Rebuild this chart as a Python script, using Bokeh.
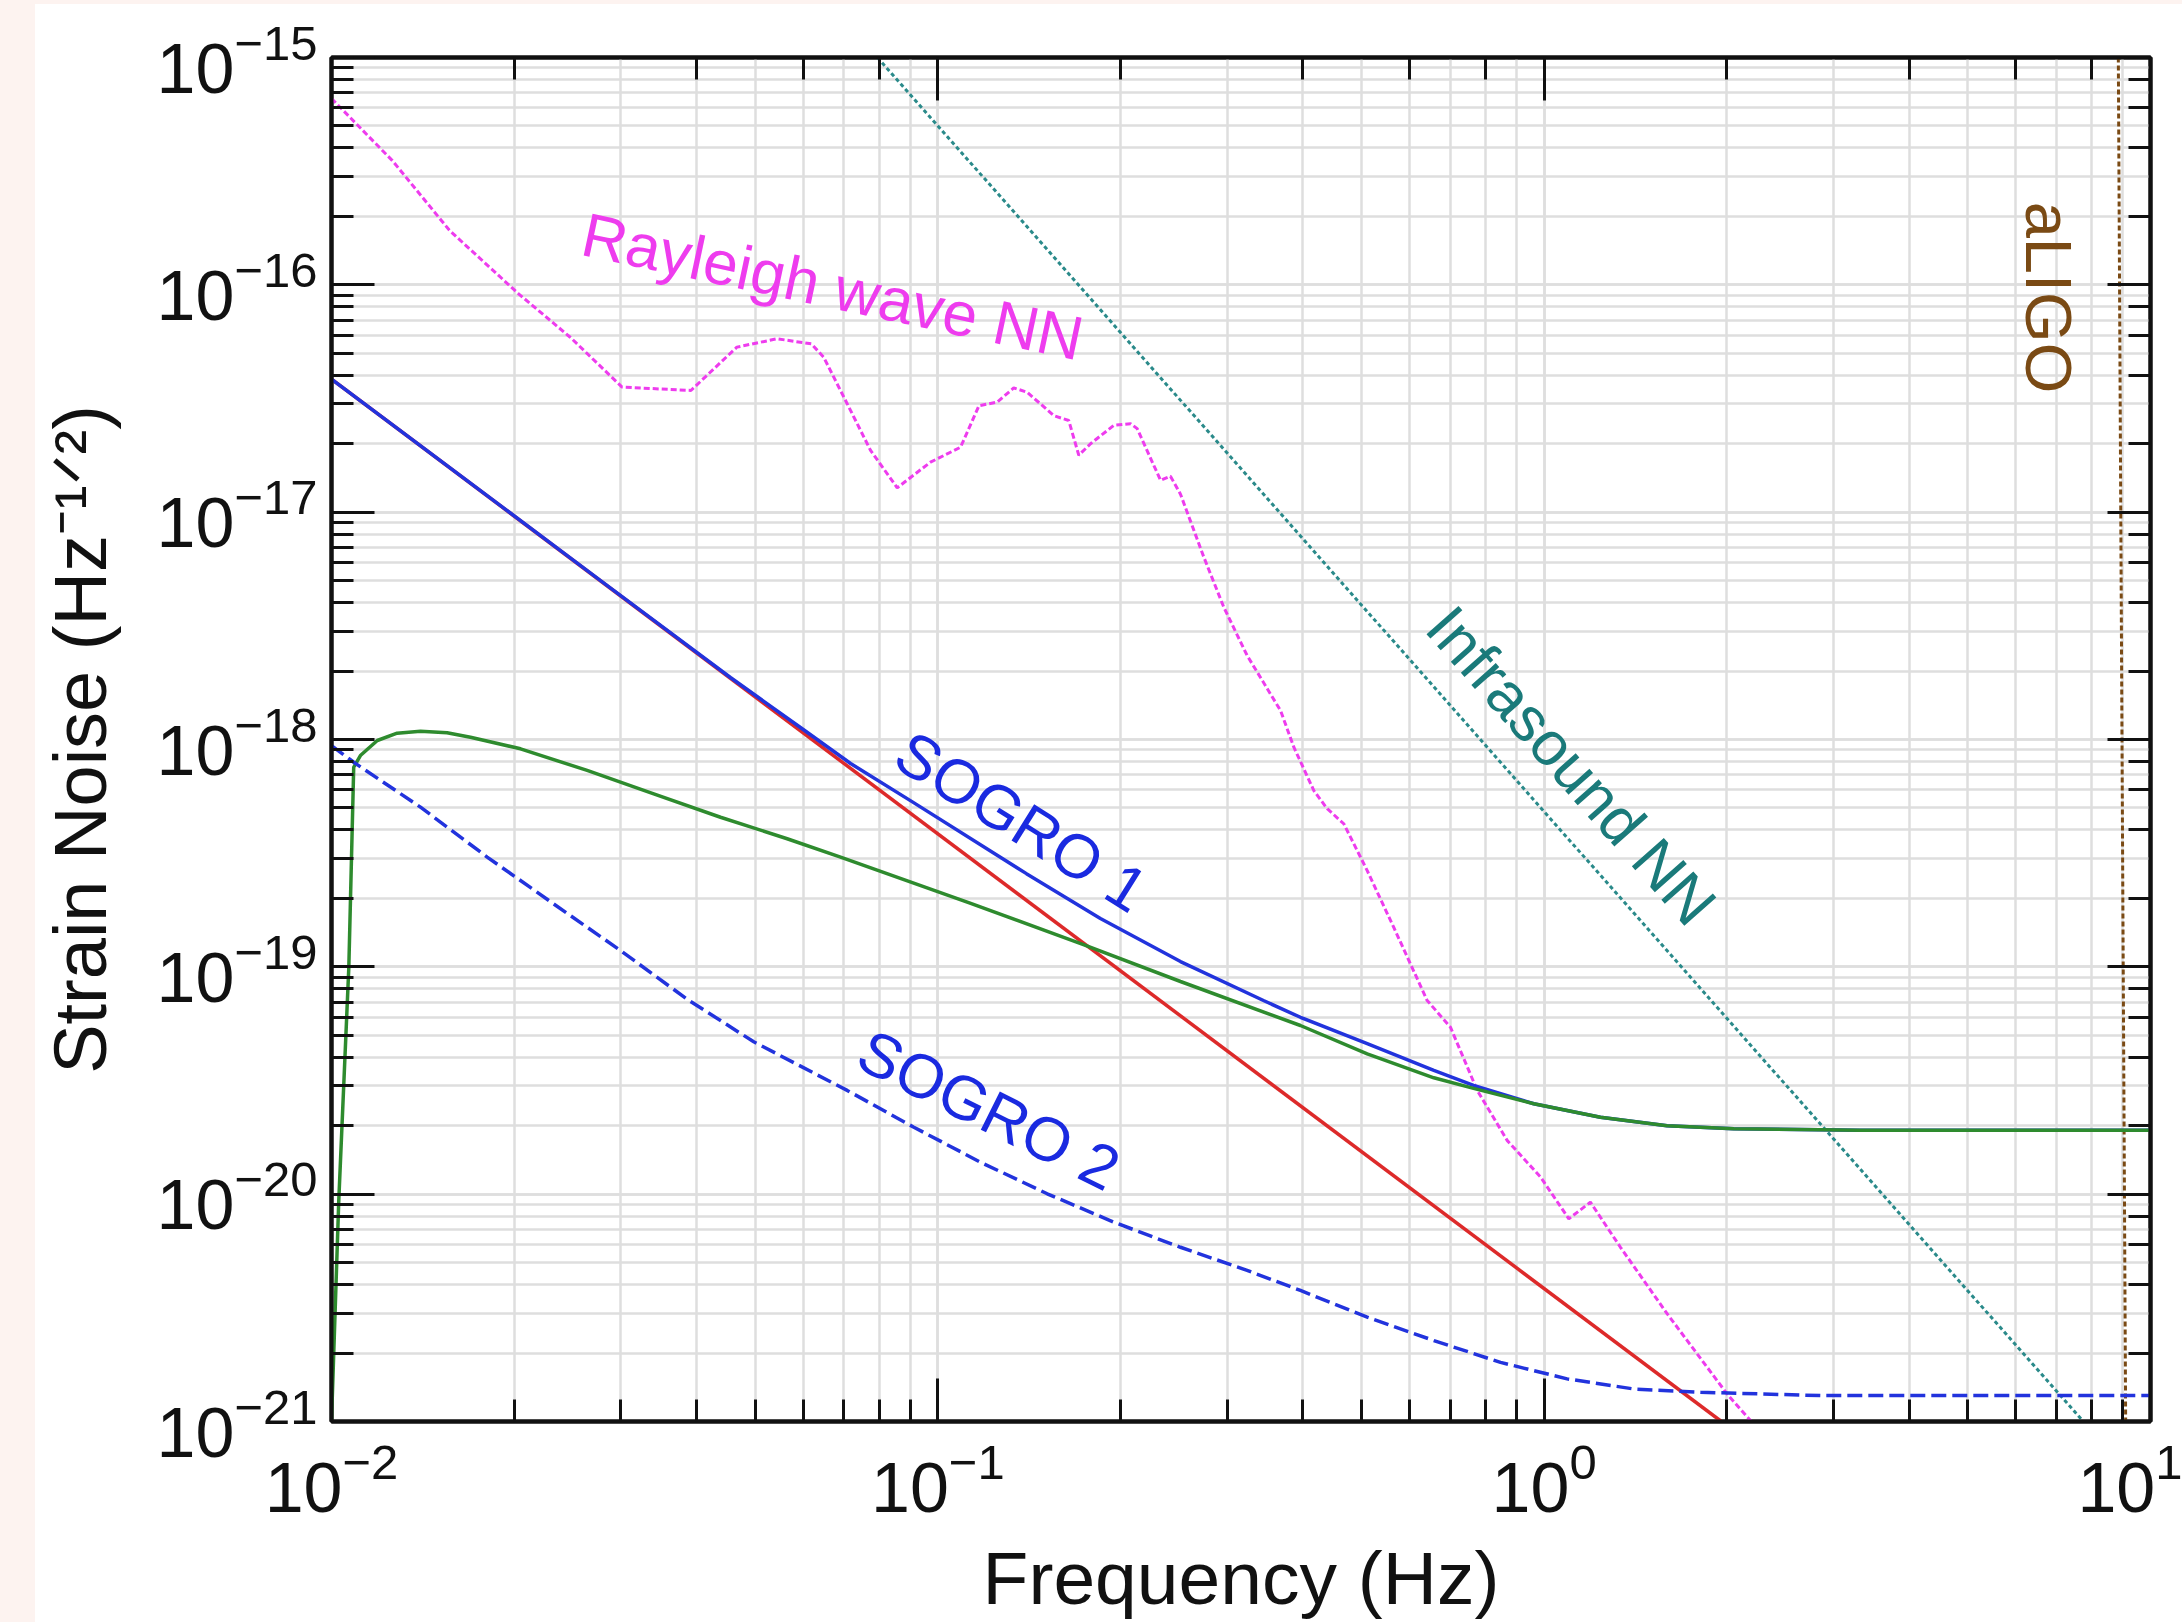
import math
from bokeh.plotting import figure
from bokeh.layouts import column, row
from bokeh.models import Range1d, LogAxis, Label, Spacer, CustomJSTickFormatter
from bokeh.embed import file_html
from bokeh.resources import INLINE

# ---------------- data ----------------
rayleigh_f = [0.0100, 0.01260, 0.01567, 0.02035, 0.02476, 0.03014, 0.03915, 0.04662, 0.05430, 0.06187,
              0.06484, 0.07087, 0.07745, 0.08570, 0.09725, 0.1090, 0.1169, 0.1253, 0.1334, 0.1404,
              0.1553, 0.1644, 0.1708, 0.1786, 0.1951, 0.2079, 0.2132, 0.2330, 0.2419, 0.2513,
              0.2746, 0.2962, 0.3237, 0.3675, 0.3865, 0.4170, 0.4387, 0.4672, 0.5107, 0.5649,
              0.6413, 0.7005, 0.7756, 0.8694, 0.9863, 1.098, 1.192, 1.336, 1.595, 2.004, 2.189, 2.25]
rayleigh_h = [6.6e-16, 3.52e-16, 1.73e-16, 9.13e-17, 5.88e-17, 3.55e-17, 3.43e-17, 5.32e-17, 5.79e-17, 5.50e-17,
              4.80e-17, 3.00e-17, 1.87e-17, 1.28e-17, 1.66e-17, 1.93e-17, 2.94e-17, 3.05e-17, 3.52e-17, 3.37e-17,
              2.66e-17, 2.53e-17, 1.78e-17, 2.00e-17, 2.41e-17, 2.45e-17, 2.33e-17, 1.38e-17, 1.44e-17, 1.20e-17,
              6.34e-18, 3.82e-18, 2.34e-18, 1.34e-18, 9.25e-19, 5.96e-19, 4.96e-19, 4.26e-19, 2.65e-19, 1.49e-19,
              7.11e-20, 5.43e-20, 2.86e-20, 1.72e-20, 1.19e-20, 7.79e-21, 9.22e-21, 5.84e-21, 2.98e-21, 1.32e-21,
              1.01e-21, 8.9e-22]

green_f = [0.0100, 0.01028, 0.01068, 0.01088, 0.01116, 0.01190, 0.01283, 0.01402, 0.01551, 0.01695,
           0.02050, 0.02640, 0.03400, 0.04381, 0.05643, 0.06911, 0.1127, 0.1743, 0.2513, 0.3963,
           0.5107, 0.6577, 0.7648, 0.9614, 1.238, 1.595, 2.055, 3.313, 10.0]
green_h = [1.0e-21, 9.38e-21, 9.96e-20, 7.55e-19, 8.50e-19, 9.90e-19, 1.066e-18, 1.088e-18, 1.07e-18, 1.023e-18,
           9.10e-19, 7.31e-19, 5.77e-19, 4.55e-19, 3.66e-19, 3.04e-19, 1.912e-19, 1.249e-19, 8.62e-20, 5.52e-20,
           4.14e-20, 3.25e-20, 2.92e-20, 2.50e-20, 2.18e-20, 2.00e-20, 1.94e-20, 1.91e-20, 1.91e-20]

sogro1_f = [0.0100, 0.02778, 0.04549, 0.05935, 0.0718, 0.09066, 0.1400, 0.1854, 0.2513, 0.3444,
            0.3963, 0.5107, 0.6577, 0.7648, 0.9614, 1.238, 1.595, 2.055, 3.313, 10.0]
sogro1_h = [3.85e-17, 5.00e-18, 1.874e-18, 1.129e-18, 7.84e-19, 5.33e-19, 2.57e-19, 1.632e-19, 1.055e-19, 7.11e-20,
            6.00e-20, 4.59e-20, 3.50e-20, 3.01e-20, 2.50e-20, 2.18e-20, 2.00e-20, 1.94e-20, 1.91e-20, 1.91e-20]

sogro2_f = [0.0100, 0.01088, 0.01402, 0.01806, 0.02326, 0.02996, 0.03860, 0.04970, 0.07087, 0.09129,
            0.1176, 0.1515, 0.1951, 0.2513, 0.3237, 0.3963, 0.5107, 0.6577, 0.8472, 1.091,
            1.405, 1.811, 2.856, 10.0]
sogro2_h = [9.4e-19, 7.94e-19, 5.04e-19, 3.04e-19, 1.89e-19, 1.18e-19, 7.20e-20, 4.68e-20, 2.86e-20, 1.97e-20,
            1.382e-20, 1.004e-20, 7.53e-21, 5.84e-21, 4.62e-21, 3.77e-21, 2.88e-21, 2.27e-21, 1.82e-21, 1.54e-21,
            1.39e-21, 1.345e-21, 1.30e-21, 1.30e-21]

red_f = [0.0100, 1.96]
red_h = [3.85e-17, 1.0e-21]

infra_f = [0.0795, 7.75]
infra_h = [1.0e-15, 1.0e-21]

aligo_f = [8.85, 9.10]
aligo_h = [1.0e-15, 1.0e-21]

# ---------------- figure ----------------
FONT = "Liberation Sans"
INK = "#111111"
PINK = "#fdf3f0"

p = figure(width=2147, height=1618, x_axis_type="log", y_axis_type="log",
           x_range=Range1d(1e-2, 1e1), y_range=Range1d(1e-21, 1e-15),
           output_backend="svg", toolbar_location=None,
           min_border_left=296, min_border_right=32, min_border_top=53, min_border_bottom=201)
p.background_fill_color = "white"
p.border_fill_color = "white"
p.outline_line_color = INK
p.outline_line_width = 4

for g in (p.xgrid[0], p.ygrid[0]):
    g.grid_line_color = "#dedede"
    g.grid_line_width = 2.5
    g.minor_grid_line_color = "#dedede"
    g.minor_grid_line_width = 2.5

def style_axis(ax, labels=True):
    ax.axis_line_color = INK
    ax.axis_line_width = 4
    ax.major_tick_in = 43
    ax.major_tick_out = 0
    ax.minor_tick_in = 22
    ax.minor_tick_out = 0
    ax.major_tick_line_width = 3
    ax.minor_tick_line_width = 3
    ax.major_tick_line_color = INK
    ax.minor_tick_line_color = INK
    if labels:
        ax.major_label_text_font = FONT
        ax.major_label_text_font_size = "70px"
        ax.major_label_text_color = INK
        ax.axis_label_text_font = FONT
        ax.axis_label_text_font_style = "normal"
        ax.axis_label_text_color = INK
    else:
        ax.formatter = CustomJSTickFormatter(code="return ''")
        ax.major_label_text_font_size = "0px"
        ax.major_label_standoff = 0

xa = p.xaxis[0]
ya = p.yaxis[0]
style_axis(xa)
style_axis(ya)
xa.major_label_standoff = 20
ya.major_label_standoff = 14
xa.axis_label = "Frequency (Hz)"
xa.axis_label_text_font_size = "75px"
xa.axis_label_standoff = 21
ya.axis_label = "Strain Noise (Hz\u207b\u00b9\u141f\u00b2)"
ya.axis_label_text_font_size = "74px"
ya.axis_label_standoff = 32

top_ax = LogAxis()
right_ax = LogAxis()
style_axis(top_ax, labels=False)
style_axis(right_ax, labels=False)
p.add_layout(top_ax, "above")
p.add_layout(right_ax, "right")

# ---------------- curves ----------------
p.line(infra_f, infra_h, line_color="#2a8a8a", line_width=3, line_dash="4 3")
p.line(aligo_f, aligo_h, line_color="#7a4a14", line_width=3, line_dash="5 3")
p.line(rayleigh_f, rayleigh_h, line_color="#ee3cee", line_width=3, line_dash="6 3")
p.line(red_f, red_h, line_color="#dd2a2a", line_width=3.5)
p.line(sogro1_f, sogro1_h, line_color="#2233dd", line_width=3.5)
p.line(green_f, green_h, line_color="#2e8b2e", line_width=3.5)
p.line(sogro2_f, sogro2_h, line_color="#2233dd", line_width=3.5, line_dash="15 6")

# ---------------- curve labels (centred on the reference positions) ----------------
def lab(x, y, text, color, angle_deg, size):
    p.add_layout(Label(x=x, y=y, text=text, text_color=color, angle=math.radians(angle_deg),
                       text_font=FONT, text_font_size=size, text_align="center",
                       text_baseline="middle"))

lab(0.06704, 9.83e-17, "Rayleigh wave NN", "#ee3cee", -12, "62px")
lab(1.109, 7.68e-19, "Infrasound NN", "#1a7a7a", -48.5, "62px")
lab(0.1374, 4.36e-19, "SOGRO 1", "#1a2ae0", -32, "62px")
lab(0.1214, 2.35e-20, "SOGRO 2", "#1a2ae0", -26.5, "62px")
lab(6.80, 8.80e-17, "aLIGO", "#7a4a14", -90, "65px")

layout = column(
    Spacer(width=2182, height=4, styles={"background-color": PINK}),
    row(Spacer(width=35, height=1618, styles={"background-color": PINK}), p),
)

open("out.html", "w").write(file_html(layout, INLINE))
